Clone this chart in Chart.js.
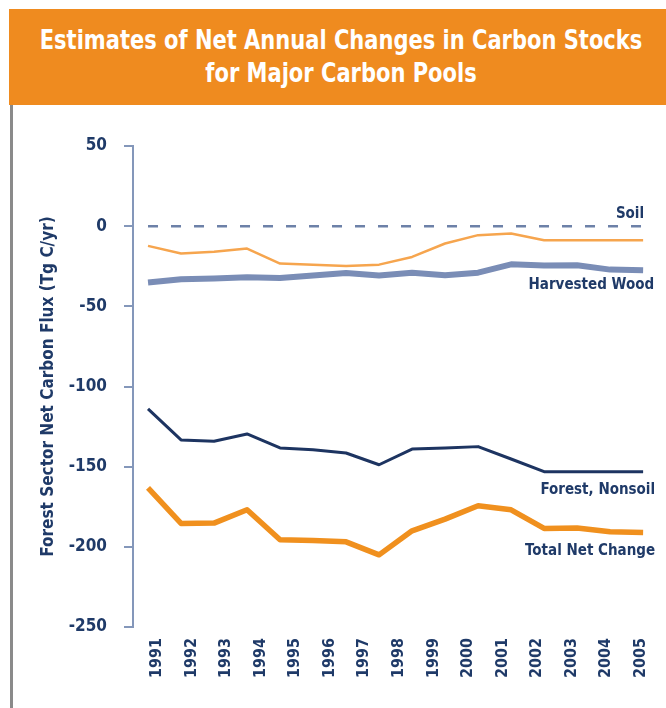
<!DOCTYPE html>
<html>
<head>
<meta charset="utf-8">
<script src="https://cdn.jsdelivr.net/npm/chart.js@4"></script>
<style>
  body { margin: 0; background: #fff; width: 666px; height: 708px; overflow: hidden; position: relative; }
  .banner {
    position: absolute; left: 9px; top: 9px; width: 657px; height: 96px;
    background: #ef8b1f; color: #fff; text-align: center;
    font-family: "Liberation Sans Narrow", "DejaVu Sans Condensed", "Roboto Condensed", Roboto, sans-serif;
    font-weight: bold; font-size: 27px; line-height: 33px; white-space: nowrap;
  }
  .banner span {
    position: absolute; top: 14px; left: calc(50% + 3px); width: max-content;
    transform: translateX(-50%) scaleX(0.865); transform-origin: center;
  }
  .edge { position: absolute; left: 10px; top: 105px; width: 3px; height: 603px; background: #8a8a8a; }
  .wrap { position: absolute; left: 0; top: 105px; width: 666px; height: 603px; }
</style>
</head>
<body>
<div class="banner"><span>Estimates of Net Annual Changes in Carbon Stocks<br>for Major Carbon Pools</span></div>
<div class="edge"></div>
<div class="wrap"><canvas id="chart"></canvas></div>
<script>
// tick labels along the bottom
const years = ['1991', '1992', '1993', '1994', '1995', '1996', '1997', '1998',
               '1999', '2000', '2001', '2002', '2003', '2004', '2005'];
const yTicks = [50, 0, -50, -100, -150, -200, -250];

// series values (Tg C/yr), 16 samples each
const soil = [0, 0, 0, 0, 0, 0, 0, 0, 0, 0, 0, 0, 0, 0, 0, 0];
const woodThin = [-12.3, -17, -16, -14, -23.3, -24, -24.8, -24, -19.2, -10.8, -5.6, -4.6, -8.8, -8.8, -8.8, -8.8];
const harvestedWood = [-35.2, -33.1, -32.7, -31.9, -32.3, -30.8, -29.2, -30.8, -29, -30.6, -29, -23.8, -24.6, -24.4, -27.1, -27.5];
const forestNonsoil = [-113.9, -133.3, -134.2, -129.6, -138.3, -139.4, -141.5, -148.8, -139, -138.3, -137.5, -145.2, -153.1, -153.1, -153.1, -153.1];
const totalNet = [-163.3, -185.4, -185.2, -176.9, -195.6, -196, -196.9, -205, -190, -182.7, -174.4, -176.9, -188.5, -188.3, -190.6, -191];

const NAVY = '#1f3a68';
const AXIS = '#8497ba';
const FONT = '"Liberation Sans Narrow", "DejaVu Sans Condensed", "Roboto Condensed", Roboto, sans-serif';

const pts = arr => arr.map((v, i) => ({ x: i, y: v }));

// label at the right end of a series
const endLabels = {
  id: 'endLabels',
  afterDatasetsDraw(chart) {
    const ctx = chart.ctx;
    ctx.save();
    ctx.font = 'bold 15px ' + FONT;
    ctx.fillStyle = NAVY;
    ctx.textAlign = 'right';
    ctx.textBaseline = 'middle';
    chart.data.datasets.forEach((ds, i) => {
      if (!ds.endText) return;
      const meta = chart.getDatasetMeta(i);
      const last = meta.data[meta.data.length - 1];
      ctx.fillText(ds.endText, last.x + ds.endDx, last.y + ds.endDy);
    });
    ctx.restore();
  }
};

new Chart(document.getElementById('chart'), {
  type: 'line',
  data: {
    datasets: [
      { label: 'Soil', data: pts(soil), borderColor: '#6d81a8', borderWidth: 2.5, borderDash: [10, 13],
        endText: 'Soil', endDx: 1, endDy: -12 },
      { label: 'Harvested Wood (thin)', data: pts(woodThin), borderColor: '#f6a54e', borderWidth: 2.5 },
      { label: 'Harvested Wood', data: pts(harvestedWood), borderColor: '#7a8db6', borderWidth: 6,
        endText: 'Harvested Wood', endDx: 11, endDy: 15 },
      { label: 'Forest, Nonsoil', data: pts(forestNonsoil), borderColor: '#1d3461', borderWidth: 3,
        endText: 'Forest, Nonsoil', endDx: 12, endDy: 18 },
      { label: 'Total Net Change', data: pts(totalNet), borderColor: '#f0901e', borderWidth: 5.5,
        endText: 'Total Net Change', endDx: 12, endDy: 19 }
    ]
  },
  options: {
    responsive: true,
    maintainAspectRatio: false,
    animation: false,
    layout: { padding: { top: 41, right: 11, left: 0, bottom: 0 } },
    elements: {
      point: { radius: 0 },
      line: { tension: 0, borderJoinStyle: 'round', borderCapStyle: 'butt', fill: false }
    },
    plugins: { legend: { display: false }, tooltip: { enabled: false } },
    scales: {
      x: {
        type: 'linear', display: false,
        min: -0.455, max: 15.36
      },
      years: {
        type: 'linear', position: 'bottom',
        min: 1990.31, max: 2005.41,
        afterBuildTicks: axis => { axis.ticks = years.map(y => ({ value: Number(y) })); },
        afterFit: axis => { axis.height = 81; axis.paddingLeft = 0; axis.paddingRight = 0; },
        grid: { display: false, drawTicks: false },
        border: { display: false },
        ticks: {
          autoSkip: false, maxRotation: 90, minRotation: 90, padding: 11,
          color: NAVY, font: { family: FONT, size: 16, weight: 'bold' },
          callback: v => String(Math.round(v))
        }
      },
      y: {
        min: -250, max: 50,
        afterBuildTicks: axis => { axis.ticks = yTicks.map(v => ({ value: v })); },
        afterFit: axis => { axis.width = 133; },
        grid: { drawOnChartArea: false, drawTicks: true, tickLength: 9, color: AXIS, lineWidth: 2 },
        border: { display: true, color: AXIS, width: 2 },
        ticks: { color: NAVY, padding: 17, font: { family: FONT, size: 17, weight: 'bold' } },
        title: {
          display: true, text: 'Forest Sector Net Carbon Flux (Tg C/yr)',
          color: NAVY, font: { family: FONT, size: 17, weight: 'bold' },
          padding: { top: 38, bottom: 0 }
        }
      }
    }
  },
  plugins: [endLabels]
});
</script>
</body>
</html>
